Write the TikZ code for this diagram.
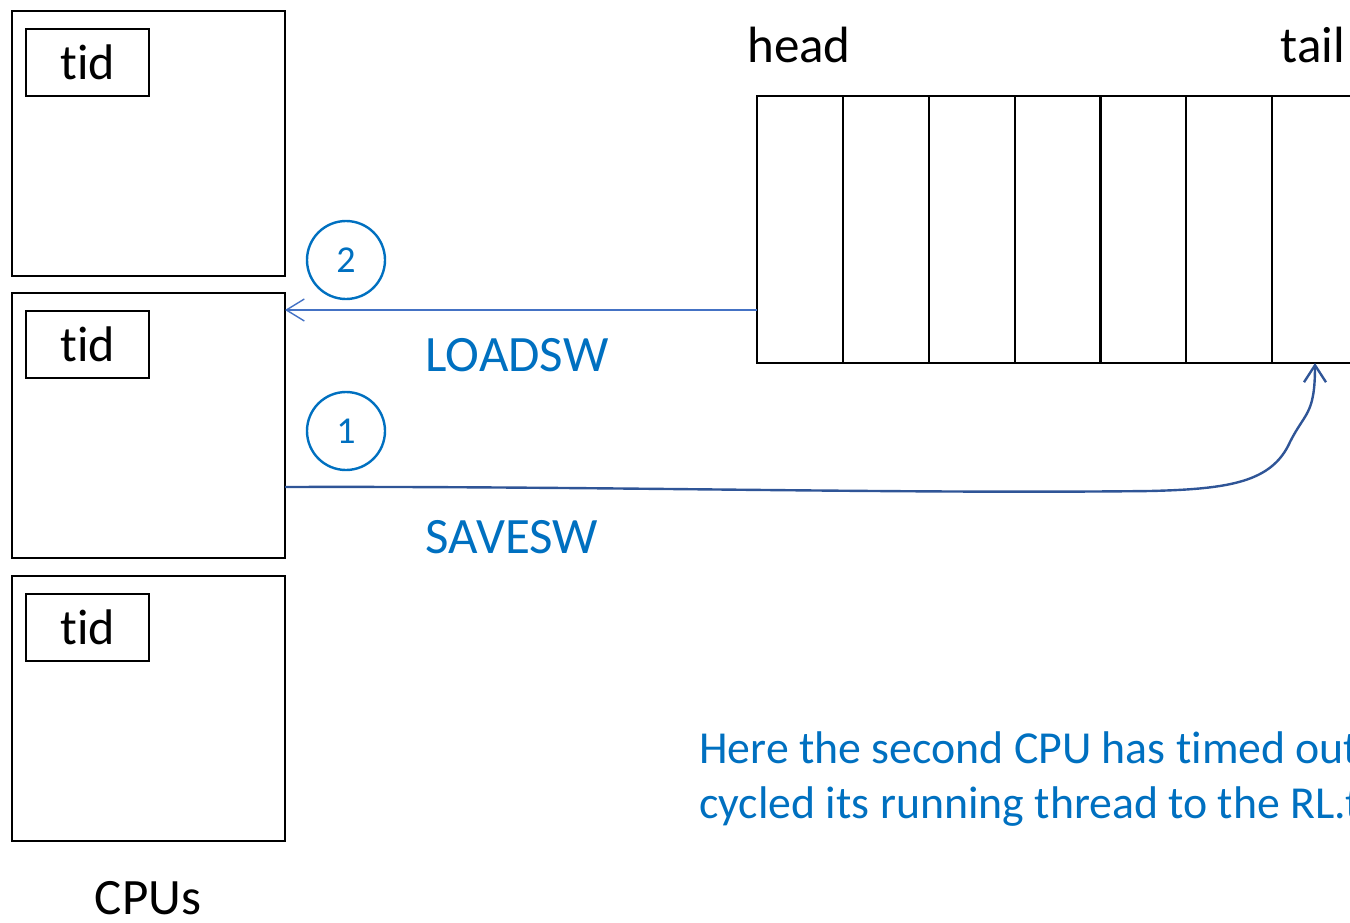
\documentclass[tikz,border=0pt]{standalone}
\usepackage{fontspec}
\setmainfont[Ligatures={NoCommon}]{Carlito}
\usetikzlibrary{arrows.meta}
\definecolor{accent}{RGB}{0,112,192}
\definecolor{loadc}{RGB}{68,114,196}
\definecolor{savec}{RGB}{47,85,151}
\tikzset{
  cpubox/.style={draw, line width=1.25pt, minimum width=136.5pt, minimum height=132.5pt, inner sep=0pt, outer sep=0pt},
  tidbox/.style={draw, line width=1.25pt, minimum width=61.5pt, minimum height=33.5pt, inner sep=0pt, outer sep=0pt, font=\fontsize{25}{30}\selectfont},
  cell/.style={draw, line width=1.25pt, minimum width=43pt, minimum height=133.5pt, inner sep=0pt, outer sep=0pt},
  blacklabel/.style={font=\fontsize{25.5}{30}\selectfont},
  bluelabel/.style={text=accent, font=\fontsize{25.5}{30}\selectfont},
  notetext/.style={text=accent, font=\fontsize{22.9}{27}\selectfont, anchor=base west, inner sep=0pt},
  stepnum/.style={circle, draw=accent, text=accent, line width=1.2pt, minimum size=39pt, inner sep=0pt, font=\fontsize{19}{22}\selectfont},
  loadarrow/.style={draw=loadc, line width=0.7pt, -{Straight Barb[length=9pt,width=11pt]}},
  savearrow/.style={draw=savec, line width=1.2pt, -{Straight Barb[length=8.5pt,width=11pt]}},
}
\begin{document}
\begin{tikzpicture}[x=0.5pt,y=-0.5pt]
\useasboundingbox (0,0) rectangle (1350,922);
\clip (0,0) rectangle (1350,922);

% CPUs with their tid registers
\node[cpubox] (cpu1) at (148.5,143.5) {};
\node[cpubox] (cpu2) at (148.5,425.5) {};
\node[cpubox] (cpu3) at (148.5,708.5) {};
\node[tidbox] (tid1) at (87.5,62.5) {tid};
\node[tidbox] (tid2) at (87.5,344.5) {tid};
\node[tidbox] (tid3) at (87.5,627.5) {tid};
\node[blacklabel, anchor=base] (cpus) at (148,914) {CPUs};

% ready list cells
\foreach \i/\x in {1/800,2/886,3/972,4/1058,5/1143,6/1229,7/1315}{
  \node[cell] (cell\i) at (\x,229.5) {};
}
\node[blacklabel, anchor=base] (head) at (799,62) {head};
\node[blacklabel, anchor=base] (tail) at (1313,62) {tail};

% step 2: load the head thread into the CPU
\coordinate (ld) at ([yshift=26.5pt]cell1.south west);
\draw[loadarrow] (ld) -- (ld -| cpu2.east);
\node[stepnum] (n2) at (346,260) {2};
\node[bluelabel] (loadsw) at (517,355) {LOADSW};

% step 1: save the running thread at the tail
\coordinate (sv) at ([yshift=-30.75pt]cpu2.east);
\draw[savearrow] (sv) .. controls (600,486) and (900,494) .. (1150,491)
  .. controls (1230,489) and (1272,482) .. (1290,442)
  .. controls (1305,412) and (1315,415) .. (cell7.south);
\node[stepnum] (n1) at (346,431) {1};
\node[bluelabel] (savesw) at (512,537) {SAVESW};

% explanation
\node[notetext] (note1) at (699,763) {Here the second CPU has timed out};
\node[notetext] (note2) at (699,818) {cycled its running thread to the RL.t};
\end{tikzpicture}
\end{document}
